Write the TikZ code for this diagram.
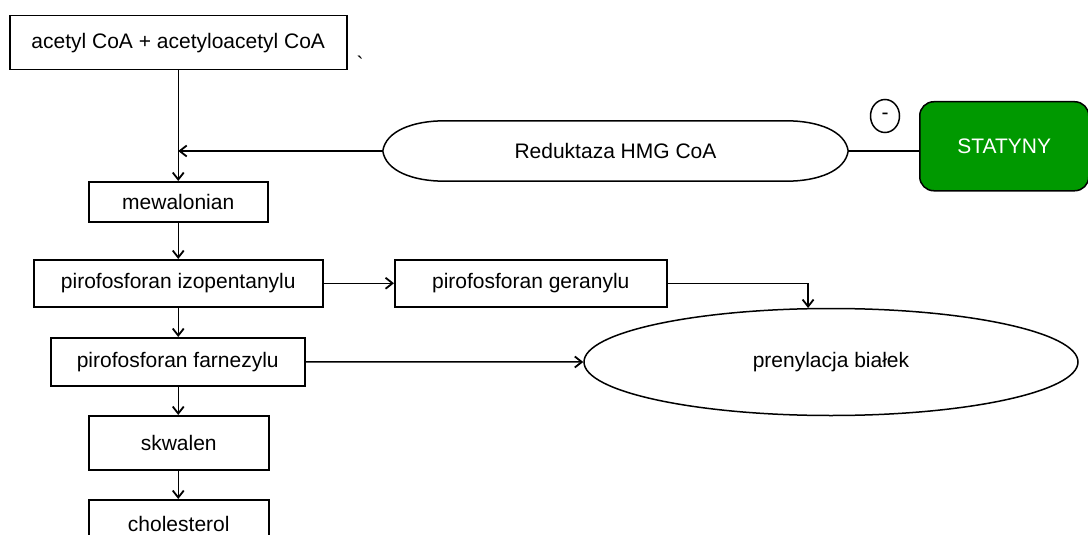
\documentclass[tikz,border=0pt]{standalone}
\usepackage{fontspec}
\setmainfont{Liberation Sans}
\usetikzlibrary{shapes.geometric,arrows.meta,calc}
\begin{document}
\begin{tikzpicture}[x=1pt,y=-1pt,
  every node/.style={font=\fontsize{21}{25}\selectfont, inner sep=0pt},
  box/.style={draw, line width=1.5pt, rectangle, anchor=north west},
  conn/.style={line width=1.5pt},
  arr/.style={conn, -{Straight Barb[length=7pt,width=11pt,line width=1.8pt]}}]
\useasboundingbox (0,0) rectangle (1088,535);
\clip (0,0) rectangle (1088,535);
% boxes
\node[box, minimum width=337, minimum height=54] (acet) at (9,15) {acetyl CoA + acetyloacetyl CoA};
\node (tick) at (360,64) {\textasciigrave};
\node[box, minimum width=179, minimum height=40] (mew) at (88,181) {mewalonian};
\node[box, minimum width=289, minimum height=47] (izo) at (33,259) {pirofosforan izopentanylu};
\node[box, minimum width=272, minimum height=47] (ger) at (394,259) {pirofosforan geranylu};
\node[box, minimum width=254, minimum height=48] (far) at (50,337) {pirofosforan farnezylu};
\node[box, minimum width=180, minimum height=54] (skw) at (88,415) {skwalen};
\node[box, minimum width=180, minimum height=48] (chol) at (88,499) {\raisebox{-2pt}{cholesterol}};
% enzyme
\node[minimum width=465, minimum height=60] (red) at (615.5,151) {Reduktaza HMG CoA};
\draw[conn] (red.west) .. controls ($(red.west)+(3,-20)$) and ($(red.north west)+(30,0)$) .. ($(red.north west)+(62,0)$)
  -- ($(red.north east)+(-62,0)$)
  .. controls ($(red.north east)+(-30,0)$) and ($(red.east)+(-3,-20)$) .. (red.east)
  .. controls ($(red.east)+(-3,20)$) and ($(red.south east)+(-30,0)$) .. ($(red.south east)+(-62,0)$)
  -- ($(red.south west)+(62,0)$)
  .. controls ($(red.south west)+(30,0)$) and ($(red.west)+(3,20)$) .. (red.west) -- cycle;
\node[draw, line width=1.5pt, ellipse, minimum width=29, minimum height=33] (minus) at (885,116) {-};
\node[draw, line width=1.5pt, rectangle, rounded corners=14pt, fill={rgb,255:red,0;green,153;blue,0},
  text=white, minimum width=169, minimum height=89, anchor=north west] (stat) at (919,101) {STATYNY};
\node[draw, line width=1.5pt, ellipse, minimum width=494, minimum height=107] (pren) at (831,362) {prenylacja białek};
% connectors
\draw[arr] (acet.south) -- (mew.north);
\draw[arr] (red.west) -- (red.west -| mew.north);
\draw[conn] (red.east) -- (red.east -| stat.west);
\draw[arr] (mew.south) -- (izo.north -| mew.south);
\draw[arr] (izo.east) -- (ger.west);
\draw[arr] (ger.east) -| (pren.113);
\draw[arr] (izo.south -| mew.south) -- (far.north -| mew.south);
\draw[arr] (far.east) -- (pren.west);
\draw[arr] (far.south -| mew.south) -- (skw.north -| mew.south);
\draw[arr] (skw.south -| mew.south) -- (chol.north -| mew.south);
\end{tikzpicture}
\end{document}
